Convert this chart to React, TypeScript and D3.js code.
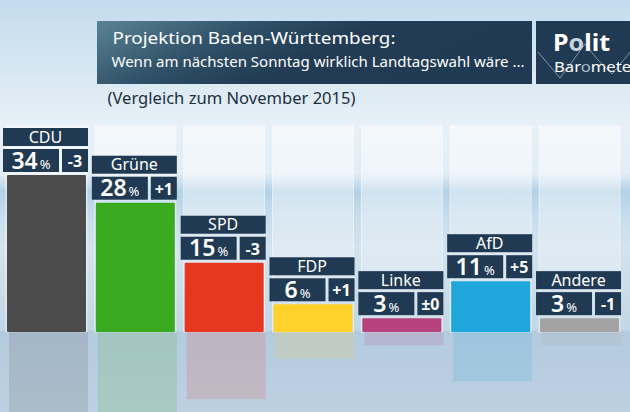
import * as React from 'react'
import * as d3 from 'd3'

const parties = ['CDU', 'Grüne', 'SPD', 'FDP', 'Linke', 'AfD', 'Andere']
const shares = [34, 28, 15, 6, 3, 11, 3]
const changes = ['-3', '+1', '-3', '+1', '±0', '+5', '-1']
const colors = ['#4b4b4b', '#3aaa1e', '#e8371f', '#fed22a', '#b6417f', '#1fa7dc', '#a3a3a3']

const titleLine1 = 'Projektion Baden-Württemberg:'
const titleLine2 = 'Wenn am nächsten Sonntag wirklich Landtagswahl wäre ...'
const subtitle = '(Vergleich zum November 2015)'

const W = 630
const H = 412
const baseY = 332
const navy = '#1f3a52'
const font = "'Noto Sans', 'Open Sans', sans-serif"

const App = () => {
  const x = d3.scaleBand().domain(parties).range([7, 619]).paddingInner(0.111).paddingOuter(0)
  const y = d3.scaleLinear().domain([0, 34]).range([baseY, 175])
  const bw = x.bandwidth()

  const bars = parties.map((p, i) => ({
    name: p,
    value: shares[i],
    change: changes[i],
    color: colors[i],
  }))

  return (
    <svg width={W} height={H} style={{position: 'absolute', left: 0, top: 0}}>
      <defs>
        <linearGradient id="bg" x1="0" y1="0" x2="0" y2="1">
          <stop offset="0" stopColor="#c3dbed" />
          <stop offset="0.15" stopColor="#d5e6f2" />
          <stop offset="0.3" stopColor="#e7f0f7" />
          <stop offset="0.42" stopColor="#e2edf6" />
          <stop offset="0.465" stopColor="#b3d1e7" />
          <stop offset="0.52" stopColor="#c6dcec" />
          <stop offset="0.6" stopColor="#d3e3ef" />
          <stop offset="0.8" stopColor="#c3d6e5" />
          <stop offset="0.806" stopColor="#b4cbde" />
          <stop offset="1" stopColor="#bcd0e1" />
        </linearGradient>
        <linearGradient id="title" x1="0" y1="0" x2="1" y2="0.3">
          <stop offset="0" stopColor="#5a8394" />
          <stop offset="0.35" stopColor="#2f5068" />
          <stop offset="0.6" stopColor="#213c54" />
          <stop offset="1" stopColor="#1f3a52" />
        </linearGradient>
        <linearGradient id="panel" x1="0" y1="0" x2="0" y2="1">
          <stop offset="0" stopColor="#ffffff" stopOpacity="0.55" />
          <stop offset="0.5" stopColor="#ffffff" stopOpacity="0.3" />
          <stop offset="1" stopColor="#ffffff" stopOpacity="0.2" />
        </linearGradient>
      </defs>

      <rect x={0} y={0} width={W} height={H} fill="url(#bg)" />

      {/* pale column panels */}
      {bars.map((d) => (
        <rect
          key={'panel' + d.name}
          x={x(d.name)! - 1}
          y={126}
          width={bw + 2}
          height={baseY - 126}
          fill="url(#panel)"
          stroke="#ffffff"
          strokeOpacity={0.5}
          strokeWidth={1}
        />
      ))}

      {/* reflections */}
      {bars.map((d) => (
        <rect
          key={'refl' + d.name}
          x={x(d.name)! + 2}
          y={baseY}
          width={bw}
          height={(baseY - y(d.value)) * 0.97}
          fill={d.color}
          opacity={0.15}
        />
      ))}

      {/* bars */}
      {bars.map((d) => (
        <rect
          key={'bar' + d.name}
          x={x(d.name)}
          y={y(d.value)}
          width={bw}
          height={baseY - y(d.value)}
          fill={d.color}
          rx={1}
        />
      ))}

      {/* label boxes */}
      {bars.map((d) => {
        const top = y(d.value)
        const bx = x(d.name)! - 4
        return (
          <g key={'lbl' + d.name} fontFamily={font} fill="#ffffff">
            <rect x={bx} y={top - 47} width={85} height={18} fill={navy} />
            <text x={bx + 42.5} y={top - 32.5} textAnchor="middle" fontSize={16}>
              {d.name}
            </text>
            <rect x={bx} y={top - 26} width={56} height={23} fill={navy} />
            <text x={bx + 28} y={top - 6.5} textAnchor="middle">
              <tspan fontSize={23} fontWeight="600">{d.value}</tspan>
              <tspan fontSize={13} dx={2}>%</tspan>
            </text>
            <rect x={bx + 59} y={top - 26} width={26} height={23} fill={navy} />
            <text x={bx + 72} y={top - 8} textAnchor="middle" fontSize={16} fontWeight="bold">
              {d.change}
            </text>
          </g>
        )
      })}

      {/* title */}
      <rect x={97} y={21} width={435} height={63} fill="url(#title)" />
      <text x={112.5} y={43.5} fill="#ffffff" fontFamily={font} fontSize={17}
        textLength={283} lengthAdjust="spacingAndGlyphs">{titleLine1}</text>
      <text x={111.5} y={67} fill="#ffffff" fontFamily={font} fontSize={15}
        textLength={413} lengthAdjust="spacingAndGlyphs">{titleLine2}</text>
      <text x={107.5} y={103.5} fill="#1c2f40" fontFamily={font} fontSize={15.5}
        textLength={248} lengthAdjust="spacingAndGlyphs">{subtitle}</text>

      {/* Politbarometer logo */}
      <rect x={536} y={21} width={100} height={63} fill={navy} />
      <polyline
        points="538,52 560,78 585,44 598,60 612,74 632,50"
        fill="none"
        stroke="#7f97ab"
        strokeWidth={1}
      />
      <text x={553} y={51} fontFamily={font} fontSize={23} fontWeight="bold" fill="#ffffff"
        textLength={57} lengthAdjust="spacingAndGlyphs">
        P<tspan fill="#c8d3dc">o</tspan>lit
      </text>
      <text x={554} y={72} fontFamily={font} fontSize={15} fill="#ffffff"
        textLength={84} lengthAdjust="spacingAndGlyphs">
        Bar<tspan fill="#a9bccb">o</tspan>meter
      </text>
    </svg>
  )
}

export default App
